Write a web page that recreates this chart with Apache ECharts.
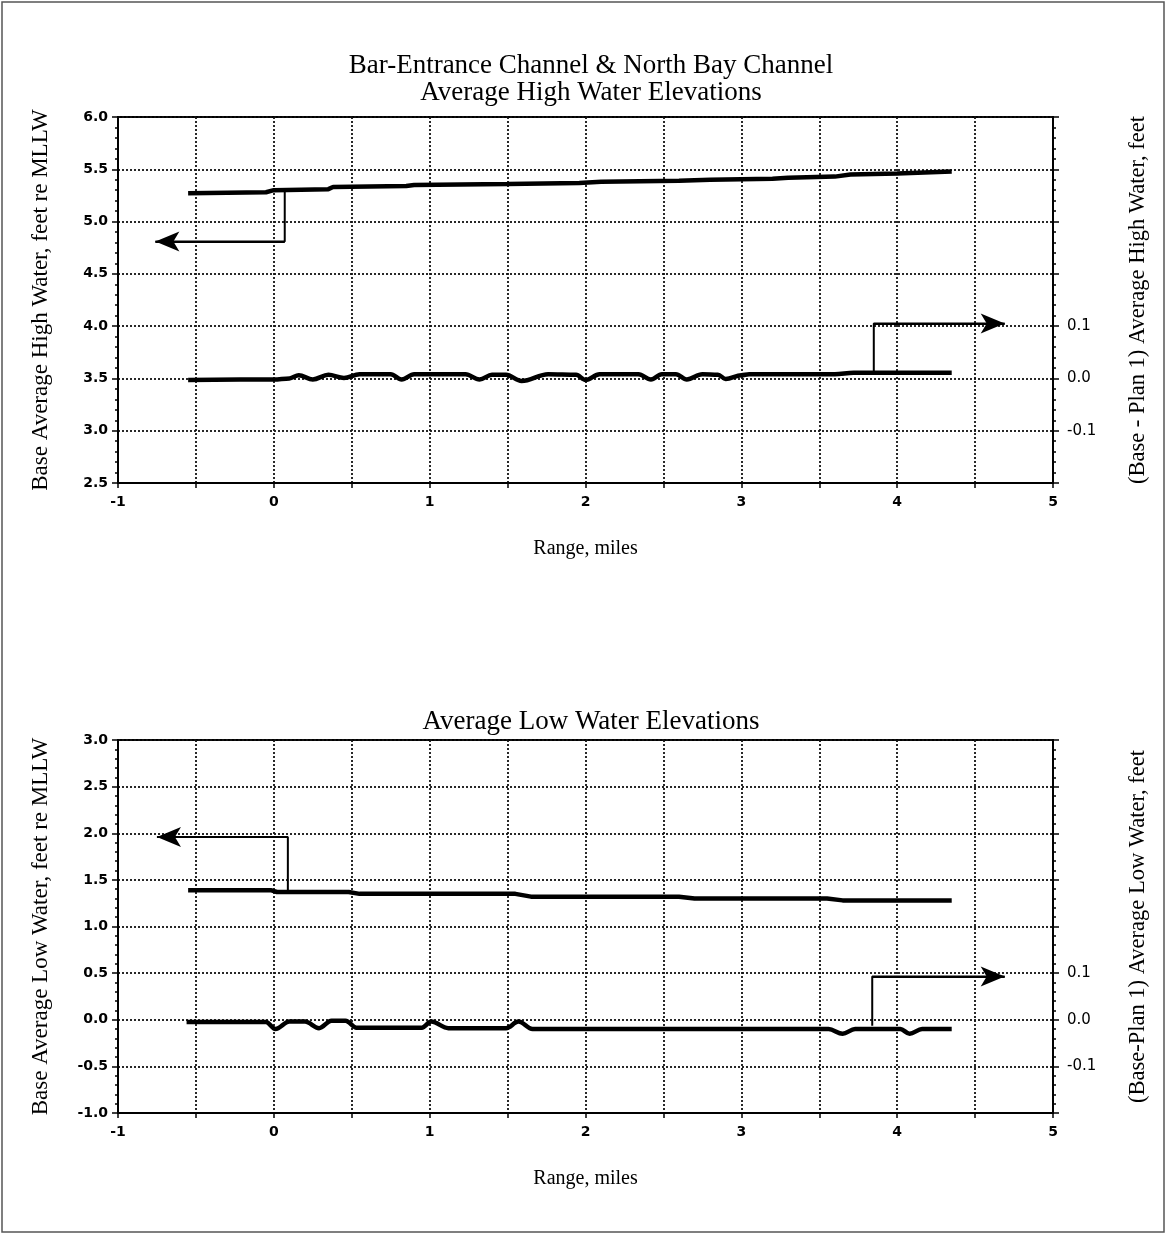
<!DOCTYPE html>
<html>
<head>
<meta charset="utf-8">
<title>Bar-Entrance Channel &amp; North Bay Channel</title>
<script src="https://cdn.jsdelivr.net/npm/echarts@6/dist/echarts.min.js"></script>
<style>
  html, body { margin: 0; padding: 0; background: #fff; }
  #chart { width: 1167px; height: 1235px; }
</style>
</head>
<body>
<div id="chart"></div>
<script>
// ---- Average high water: base elevation (left axis) ----
const hwBaseX = [-0.55, -0.05, 0.0, 0.35, 0.38, 0.85, 0.9, 1.5, 1.96, 2.1, 2.6, 2.8, 3.2, 3.3, 3.6, 3.7, 4.0, 4.35];
const hwBaseY = [5.27, 5.28, 5.30, 5.31, 5.33, 5.34, 5.35, 5.36, 5.37, 5.38, 5.39, 5.40, 5.41, 5.42, 5.43, 5.45, 5.46, 5.48];

// ---- Average high water: Base - Plan 1 difference (right axis) ----
const hwDiffX = [-0.55, 0.0, 0.10, 0.16, 0.25, 0.35, 0.45, 0.55, 0.75, 0.82, 0.90, 1.23, 1.32, 1.40, 1.49, 1.59, 1.76, 1.94, 2.00, 2.09, 2.34, 2.42, 2.49, 2.58, 2.65, 2.75, 2.85, 2.90, 3.00, 3.05, 3.60, 3.72, 4.35];
const hwDiffY = [-0.003, -0.002, 0.000, 0.006, -0.002, 0.007, 0.001, 0.008, 0.008, -0.002, 0.008, 0.008, -0.002, 0.007, 0.007, -0.005, 0.008, 0.007, -0.003, 0.008, 0.008, -0.002, 0.008, 0.008, -0.002, 0.008, 0.007, -0.001, 0.006, 0.008, 0.008, 0.011, 0.011];

// ---- Average low water: base elevation (left axis) ----
const lwBaseX = [-0.55, -0.02, 0.02, 0.48, 0.55, 1.55, 1.65, 2.6, 2.7, 3.55, 3.65, 4.35];
const lwBaseY = [1.39, 1.39, 1.37, 1.37, 1.35, 1.35, 1.32, 1.32, 1.30, 1.30, 1.28, 1.28];

// ---- Average low water: Base - Plan 1 difference (right axis) ----
const lwDiffX = [-0.56, -0.05, 0.01, 0.10, 0.20, 0.29, 0.37, 0.46, 0.53, 0.95, 1.01, 1.12, 1.49, 1.57, 1.66, 3.56, 3.65, 3.73, 4.02, 4.08, 4.16, 4.35];
const lwDiffY = [-0.005, -0.005, -0.020, -0.004, -0.004, -0.018, -0.002, -0.002, -0.017, -0.017, -0.004, -0.018, -0.018, -0.004, -0.020, -0.020, -0.030, -0.020, -0.020, -0.030, -0.020, -0.020];

// ---- Leader lines pointing each curve to its axis ----
const hwBaseLeader = [[0.07, 5.31], [0.07, 4.81], [-0.76, 4.81]];
const hwDiffLeader = [[3.85, 0.013], [3.85, 0.105], [4.69, 0.105]];
const lwBaseLeader = [[0.09, 1.37], [0.09, 1.96], [-0.75, 1.96]];
const lwDiffLeader = [[3.84, -0.013], [3.84, 0.093], [4.69, 0.093]];

// ---- Axis ranges and labels ----
const rangeX = { min: -1, max: 5, step: 0.5 };
const hwLeftAxis = { min: 2.5, max: 6.0, step: 0.5 };
const hwRightAxis = { min: -0.2, max: 0.5, step: 0.1 };
const lwLeftAxis = { min: -1.0, max: 3.0, step: 0.5 };
const lwRightAxis = { min: -0.2, max: 0.6, step: 0.1 };
const rightLabelLimit = 0.1;

const titleTop = ['Bar-Entrance Channel & North Bay Channel', 'Average High Water Elevations'];
const titleBottom = 'Average Low Water Elevations';
const xName = 'Range, miles';
const hwLeftName = 'Base Average High Water, feet re MLLW';
const hwRightName = '(Base - Plan 1) Average High Water, feet';
const lwLeftName = 'Base Average Low Water, feet re MLLW';
const lwRightName = '(Base-Plan 1) Average Low Water, feet';

const zip = (xs, ys) => xs.map((x, i) => [x, ys[i]]);

const SERIF = '"Liberation Serif", "DejaVu Serif", serif';
const SANS = '"DejaVu Sans", sans-serif';
const INK = '#000';

const gridLine = { show: true, lineStyle: { color: '#111', width: 1.8, type: [2, 2] } };

function xAxisDef(gridIndex) {
  return {
    type: 'value', gridIndex,
    min: rangeX.min, max: rangeX.max, interval: rangeX.step,
    name: xName, nameLocation: 'middle', nameGap: 56,
    nameTextStyle: { fontFamily: SERIF, fontSize: 20, color: INK },
    axisLine: { show: true, onZero: false, lineStyle: { color: INK, width: 2 } },
    axisTick: { show: true, length: 5, lineStyle: { color: INK, width: 1.5 } },
    axisLabel: {
      margin: 12, fontFamily: SANS, fontWeight: 'bold', fontSize: 14, color: INK,
      formatter: v => {
        const r = Math.round(v * 1000) / 1000;
        return Number.isInteger(r) ? String(r) : '';
      }
    },
    splitLine: gridLine
  };
}

function leftAxisDef(gridIndex, rng, name) {
  return {
    type: 'value', gridIndex, position: 'left',
    min: rng.min, max: rng.max, interval: rng.step,
    name, nameLocation: 'middle', nameGap: 66, nameRotate: 90,
    nameTextStyle: { fontFamily: SERIF, fontSize: 23, color: INK },
    axisLine: { show: true, onZero: false, lineStyle: { color: INK, width: 2 } },
    axisTick: { show: true, length: 6, lineStyle: { color: INK, width: 1.5 } },
    minorTick: { show: true, splitNumber: 5, length: 3, lineStyle: { color: INK, width: 1.5 } },
    axisLabel: {
      margin: 10, fontFamily: SANS, fontWeight: 'bold', fontSize: 14, color: INK,
      formatter: v => (Math.abs(v) < 1e-9 ? 0 : v).toFixed(1)
    },
    splitLine: gridLine
  };
}

function rightAxisDef(gridIndex, rng, name) {
  return {
    type: 'value', gridIndex, position: 'right',
    min: rng.min, max: rng.max, interval: rng.step,
    name, nameLocation: 'middle', nameGap: 74, nameRotate: 90,
    nameTextStyle: { fontFamily: SERIF, fontSize: 22.5, color: INK },
    axisLine: { show: true, onZero: false, lineStyle: { color: INK, width: 2 } },
    axisTick: { show: true, length: 6, lineStyle: { color: INK, width: 1.5 } },
    minorTick: { show: true, splitNumber: 5, length: 3, lineStyle: { color: INK, width: 1.5 } },
    axisLabel: {
      margin: 14, fontFamily: SANS, fontSize: 15, color: INK,
      formatter: v => {
        const r = Math.abs(v) < 1e-9 ? 0 : v;
        return Math.abs(r) <= rightLabelLimit + 1e-9 ? r.toFixed(1) : '';
      }
    },
    splitLine: { show: false }
  };
}

function curve(xIdx, yIdx, data, width, smooth) {
  return {
    type: 'line', xAxisIndex: xIdx, yAxisIndex: yIdx, data,
    symbol: 'none', smooth: smooth ? 0.35 : false, smoothMonotone: 'x',
    lineStyle: { color: INK, width },
    z: 5
  };
}

function leader(xIdx, yIdx, pts) {
  return {
    type: 'line', xAxisIndex: xIdx, yAxisIndex: yIdx, data: pts,
    symbol: 'none', lineStyle: { color: INK, width: 2 }, z: 6,
    markLine: {
      silent: true, symbol: ['none', 'arrow'], symbolSize: [15, 24],
      label: { show: false },
      lineStyle: { color: INK, width: 2, type: 'solid' },
      itemStyle: { color: INK },
      data: [[{ coord: pts[1] }, { coord: pts[2] }]]
    }
  };
}

const chart = echarts.init(document.getElementById('chart'), null, { renderer: 'canvas' });

chart.setOption({
  animation: false,
  backgroundColor: '#fff',
  title: [
    {
      text: titleTop.join('\n'), left: 586, top: 47, textAlign: 'center',
      textStyle: { fontFamily: SERIF, fontSize: 27, fontWeight: 'normal', color: INK, lineHeight: 27 }
    },
    {
      text: titleBottom, left: 586, top: 703, textAlign: 'center',
      textStyle: { fontFamily: SERIF, fontSize: 27, fontWeight: 'normal', color: INK, lineHeight: 27 }
    }
  ],
  grid: [
    { left: 118, right: 114, top: 117, height: 366, show: true, borderColor: INK, borderWidth: 2, backgroundColor: 'transparent' },
    { left: 118, right: 114, top: 740, height: 373, show: true, borderColor: INK, borderWidth: 2, backgroundColor: 'transparent' }
  ],
  xAxis: [xAxisDef(0), xAxisDef(1)],
  yAxis: [
    leftAxisDef(0, hwLeftAxis, hwLeftName),
    rightAxisDef(0, hwRightAxis, hwRightName),
    leftAxisDef(1, lwLeftAxis, lwLeftName),
    rightAxisDef(1, lwRightAxis, lwRightName)
  ],
  series: [
    curve(0, 0, zip(hwBaseX, hwBaseY), 4.5, false),
    curve(0, 1, zip(hwDiffX, hwDiffY), 4.5, true),
    curve(1, 2, zip(lwBaseX, lwBaseY), 4.5, false),
    curve(1, 3, zip(lwDiffX, lwDiffY), 4.5, true),
    leader(0, 0, hwBaseLeader),
    leader(0, 1, hwDiffLeader),
    leader(1, 2, lwBaseLeader),
    leader(1, 3, lwDiffLeader)
  ],
  graphic: [
    {
      type: 'rect', silent: true, z: 100,
      shape: { x: 2, y: 2, width: 1162, height: 1230 },
      style: { fill: null, stroke: '#555', lineWidth: 1.5 }
    }
  ]
});
</script>
</body>
</html>
